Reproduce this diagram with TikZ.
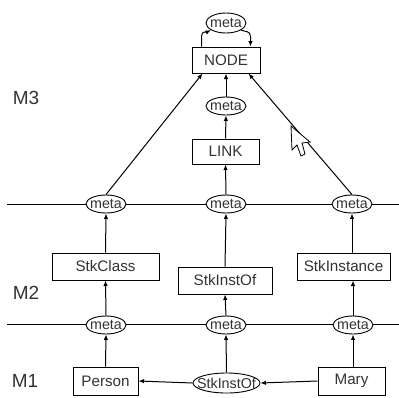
\documentclass[tikz,border=0pt]{standalone}
\usepackage{fontspec}
\setmainfont{Liberation Sans}
\usetikzlibrary{arrows.meta,shapes.geometric}
\begin{document}
\begin{tikzpicture}[x=1pt,y=-1pt,
  box/.style={draw,line width=1pt,fill=white,inner sep=0pt,minimum height=27pt,
    font=\fontsize{15.2}{17}\selectfont,text=black!80},
  meta/.style={draw,ellipse,line width=0.9pt,fill=white,inner xsep=-2.5pt,inner ysep=-4pt,
    minimum width=40pt,minimum height=18pt,font=\fontsize{14.3}{16}\selectfont,text=black!80},
  arr/.style={line width=1pt,-{Latex[length=5.5pt,width=4.5pt]}},
  conn/.style={line width=1pt},
  level/.style={font=\fontsize{19}{20}\selectfont,text=black!80}]
\useasboundingbox (0,0) rectangle (399,397);

% level separators
\coordinate (sepA-l) at (7,204);
\coordinate (sepA-r) at (399,204);
\coordinate (sepB-l) at (7,324);
\coordinate (sepB-r) at (399,324);
\draw[conn] (sepA-l) -- (sepA-r);
\draw[conn] (sepB-l) -- (sepB-r);

% level labels
\node[level] (lM3) at (26,98) {M3};
\node[level] (lM2) at (26,293) {M2};
\node[level] (lM1) at (25,381) {M1};

% M3
\node[meta,minimum height=20pt] (meta0) at (226,23) {meta};
\node[box,minimum width=68pt,minimum height=26pt] (NODE) at (226,60) {NODE};
\node[meta] (linkmeta) at (226,106) {meta};
\node[box,minimum width=67pt,minimum height=25pt] (LINK) at (225.5,151.5) {LINK};

% metas on the upper separator
\node[meta] (m2a) at (106,204) {meta};
\node[meta] (m2b) at (226,204) {meta};
\node[meta] (m2c) at (352,204) {meta};

% M2
\node[box,minimum width=107pt] (StkClass) at (105.5,266.5) {StkClass};
\node[box,minimum width=94pt] (StkInstOfBox) at (225,280.5) {StkInstOf};
\node[box,minimum width=93pt] (StkInstance) at (343.5,266.5) {StkInstance};

% metas on the lower separator
\node[meta] (m1a) at (106,325) {meta};
\node[meta] (m1b) at (226,325) {meta};
\node[meta] (m1c) at (353,325) {meta};

% M1
\node[box,minimum width=65pt,minimum height=28pt] (Person) at (105.5,381) {Person};
\node[meta,inner xsep=-7.5pt,minimum width=67pt,minimum height=20pt] (sio) at (226.5,383) {StkInstOf};
\node[box,minimum width=67pt,minimum height=28pt] (Mary) at (351.5,381) {Mary};

% self loop of NODE
\draw[arr] ([xshift=10pt]NODE.north west) -- ([xshift=10pt,yshift=10pt]NODE.north west)
  .. controls +(0,-6) and +(-4,2) .. (meta0.205);
\draw[arr] (meta0.335) .. controls +(4,2) and +(0,-6) .. ([xshift=-10pt,yshift=10pt]NODE.north east)
  -- ([xshift=-10pt]NODE.north east);

% M3 links
\draw[arr] (linkmeta.north) -- (NODE.south);
\draw[arr] (LINK.north) -- (linkmeta.south);
\draw[arr] (m2b.north) -- (LINK.south);
\draw[arr] (m2a.north) -- ([xshift=11pt]NODE.south west);
\draw[arr] (m2c.north) -- ([xshift=-12pt]NODE.south east);

% M2 to upper metas
\draw[arr] (StkClass.north) -- (m2a.south);
\draw[arr] (StkInstOfBox.north) -- (m2b.south);
\draw[arr] (StkInstance.north -| m2c) -- (m2c.south);

% lower metas to M2
\draw[arr] (m1a.north) -- (StkClass.south);
\draw[arr] (m1b.north) -- (StkInstOfBox.south);
\draw[arr] (m1c.north) -- (StkInstance.south -| m1c);

% M1 to lower metas
\draw[arr] (Person.north) -- (m1a.south);
\draw[arr] (sio.north) -- (m1b.south);
\draw[arr] (Mary.north -| m1c) -- (m1c.south);
\draw[arr] (Mary.west) -- (sio.east);
\draw[arr] (sio.west) -- (Person.east);

% mouse pointer
\draw[line width=0.8pt,fill=white,line join=miter]
  (291,126) -- (292,150) -- (297,145) -- (301,156) -- (305,154) -- (302,143) -- (310,142) -- cycle;
\end{tikzpicture}
\end{document}
